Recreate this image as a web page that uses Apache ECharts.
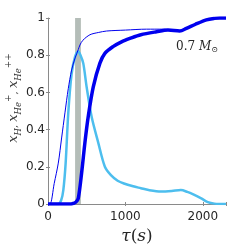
<!DOCTYPE html>
<html><head><meta charset="utf-8">
<script src="https://cdn.jsdelivr.net/npm/echarts@6/dist/echarts.min.js"></script>
<style>html,body{margin:0;padding:0;background:#fff}#c{width:249px;height:245px}</style>
</head><body><div id="c"></div>
<script>
// x_H (thin dark blue)
const tauH = [0, 26, 80, 133, 176, 219, 262, 305, 350, 391, 413, 450, 542, 650, 757, 1000, 1273, 1488, 1600, 1703, 1789, 1900, 2047, 2150, 2219, 2300];
const xH   = [0, 0, 0.11, 0.22, 0.355, 0.49, 0.62, 0.72, 0.785, 0.83, 0.855, 0.88, 0.91, 0.922, 0.93, 0.935, 0.94, 0.94, 0.935, 0.93, 0.944, 0.965, 0.99, 0.998, 1.0, 1.0];
// x_He+ (light blue)
const tauHe1 = [0, 133, 170, 198, 228, 262, 305, 348, 391, 420, 456, 499, 563, 649, 735, 813, 900, 981, 1100, 1200, 1300, 1458, 1600, 1716, 1800, 1884, 1980, 2065, 2150, 2300];
const xHe1   = [0, 0, 0.02, 0.075, 0.22, 0.49, 0.70, 0.79, 0.82, 0.80, 0.756, 0.63, 0.47, 0.33, 0.2, 0.155, 0.125, 0.11, 0.095, 0.085, 0.075, 0.067, 0.07, 0.075, 0.065, 0.05, 0.03, 0.01, 0.002, 0];
// x_He++ (thick dark blue)
const tauHe2 = [0, 300, 327, 360, 391, 434, 477, 520, 585, 671, 735, 840, 950, 1058, 1200, 1402, 1550, 1703, 1789, 1900, 2047, 2150, 2219, 2300];
const xHe2   = [0, 0, 0.003, 0.01, 0.03, 0.165, 0.33, 0.47, 0.63, 0.757, 0.81, 0.846, 0.872, 0.89, 0.91, 0.926, 0.935, 0.93, 0.944, 0.965, 0.99, 0.998, 1.0, 1.0];
const band = [350, 425];
const yTicks = [0, 0.2, 0.4, 0.6, 0.8, 1];
const xTicks = [0, 1000, 2000];

const pair = (t, v) => t.map((x, i) => [x, v[i]]);
const axisGray = '#8a8a8a';
const chart = echarts.init(document.getElementById('c'), null, {renderer: 'canvas'});
chart.setOption({
  animation: false,
  grid: {left: 48, right: 23, top: 18, bottom: 41, containLabel: false, outerBoundsMode: 'none'},
  xAxis: [{
    type: 'value', min: 0, max: 2300, interval: 1000,
    axisLine: {show: false},
    axisTick: {show: true, inside: true, length: 2, lineStyle: {color: axisGray}},
    splitLine: {show: false},
    axisLabel: {margin: 7, color: '#262626', fontSize: 12, fontFamily: 'DejaVu Sans',
      formatter: v => xTicks.includes(v) ? String(v) : ''},
    name: '{i|τ}{n|(}{i|s}{n|)}', nameLocation: 'middle', nameGap: 22,
    nameTextStyle: {rich: {
      i: {fontFamily: 'DejaVu Serif', fontStyle: 'italic', fontSize: 17, color: '#262626'},
      n: {fontFamily: 'DejaVu Serif', fontSize: 17, color: '#262626'}}}
  }, {
    type: 'value', position: 'top', min: 0, max: 2300, interval: 1000,
    axisLine: {show: true, lineStyle: {color: axisGray, width: 1}},
    axisTick: {show: true, inside: true, length: 2, lineStyle: {color: axisGray}},
    axisLabel: {show: false}, splitLine: {show: false}
  }],
  yAxis: [{
    type: 'value', min: 0, max: 1, interval: 0.2,
    axisLine: {show: false},
    axisTick: {show: true, inside: true, length: 2, lineStyle: {color: axisGray}},
    splitLine: {show: false},
    axisLabel: {margin: 3, color: '#262626', fontSize: 12, fontFamily: 'DejaVu Sans',
      formatter: v => { const t = yTicks.find(k => Math.abs(k - v) < 1e-9); return t === undefined ? '' : (t === 0 || t === 1 ? String(t) : t.toFixed(1)); }}
  }, {
    type: 'value', position: 'right', min: 0, max: 1, interval: 0.2,
    axisLine: {show: true, lineStyle: {color: axisGray, width: 1}},
    axisTick: {show: true, inside: true, length: 2, lineStyle: {color: axisGray}},
    axisLabel: {show: false}, splitLine: {show: false}
  }],
  series: [
    {type: 'line', data: [], markArea: {silent: true, itemStyle: {color: '#b4bdb8'},
      data: [[{xAxis: band[0]}, {xAxis: band[1]}]]}},
    {type: 'line', data: pair(tauHe1, xHe1), smooth: 0.3, showSymbol: false,
      lineStyle: {color: '#4dbeee', width: 2.5}},
    {type: 'line', data: pair(tauHe2, xHe2), smooth: 0.3, showSymbol: false,
      lineStyle: {color: '#0000ee', width: 3.5}},
    {type: 'line', data: pair(tauH, xH), smooth: 0.3, showSymbol: false,
      lineStyle: {color: '#0000ee', width: 1}}
  ],
  graphic: [{
    type: 'text', x: 14, y: 98, rotation: Math.PI / 2,
    style: {text: '{x|x}{s|H}{c|, }{x|x}{s|He}{p|+}{c|, }{x|x}{s|He}{p|++}',
      align: 'center', verticalAlign: 'middle',
      rich: {
        x: {fontFamily: 'DejaVu Serif', fontStyle: 'italic', fontSize: 13, fill: '#3a3a3a', lineHeight: 19},
        s: {fontFamily: 'DejaVu Serif', fontStyle: 'italic', fontSize: 8.5, fill: '#3a3a3a', verticalAlign: 'bottom', lineHeight: 10},
        p: {fontFamily: 'DejaVu Serif', fontSize: 9, fill: '#3a3a3a', verticalAlign: 'top', lineHeight: 10},
        c: {fontFamily: 'DejaVu Serif', fontSize: 10, fill: '#3a3a3a', lineHeight: 19}}}
  }, {
    type: 'text', left: 176, top: 41,
    style: {text: '{n|0.7 }{i|M}{s|⊙}', rich: {
      n: {fontFamily: 'DejaVu Serif', fontSize: 12, fill: '#262626'},
      i: {fontFamily: 'DejaVu Serif', fontStyle: 'italic', fontSize: 12, fill: '#262626'},
      s: {fontFamily: 'DejaVu Serif', fontSize: 8, fill: '#262626', verticalAlign: 'bottom', padding: [5, 0, 0, 0]}}}
  }]
});
</script></body></html>
